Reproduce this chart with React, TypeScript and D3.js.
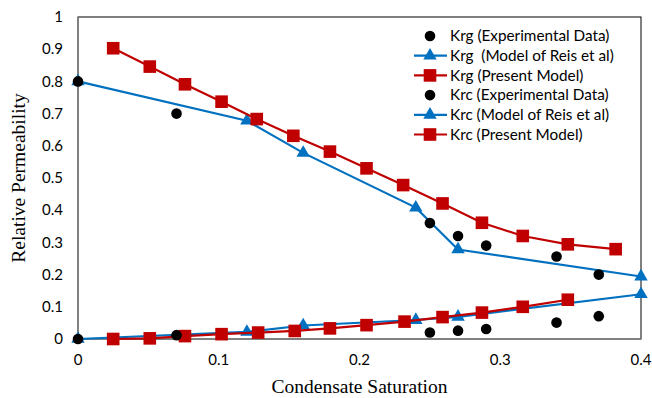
import React from 'react';
import * as d3 from 'd3';

// x = condensate saturation, y = relative permeability
const krgExpX = [0, 0.07, 0.25, 0.27, 0.29, 0.34, 0.37];
const krgExpY = [0.8, 0.7, 0.36, 0.32, 0.29, 0.256, 0.2];

const krgReisX = [0, 0.12, 0.16, 0.24, 0.27, 0.4];
const krgReisY = [0.8, 0.678, 0.578, 0.408, 0.278, 0.194];

const krgPresentX = [0.025, 0.051, 0.076, 0.102, 0.127, 0.153, 0.179, 0.205, 0.231, 0.259, 0.287, 0.316, 0.348, 0.382];
const krgPresentY = [0.903, 0.846, 0.791, 0.737, 0.683, 0.631, 0.582, 0.53, 0.478, 0.421, 0.361, 0.32, 0.294, 0.279];

const krcExpX = [0, 0.07, 0.25, 0.27, 0.29, 0.34, 0.37];
const krcExpY = [0, 0.012, 0.02, 0.026, 0.031, 0.051, 0.071];

const krcReisX = [0, 0.12, 0.16, 0.24, 0.27, 0.4];
const krcReisY = [0, 0.022, 0.042, 0.059, 0.069, 0.139];

const krcPresentX = [0.025, 0.051, 0.076, 0.102, 0.128, 0.154, 0.179, 0.205, 0.232, 0.259, 0.287, 0.316, 0.348];
const krcPresentY = [0, 0.002, 0.009, 0.015, 0.02, 0.025, 0.033, 0.043, 0.054, 0.068, 0.082, 0.1, 0.122];

const xTicks = [0, 0.1, 0.2, 0.3, 0.4];
const yTicks = [0, 0.1, 0.2, 0.3, 0.4, 0.5, 0.6, 0.7, 0.8, 0.9, 1];

const legendLabels = [
  'Krg (Experimental Data)',
  'Krg  (Model of Reis et al)',
  'Krg (Present Model)',
  'Krc (Experimental Data)',
  'Krc (Model of Reis et al)',
  'Krc (Present Model)',
];

const BLUE = '#0070C0';
const RED = '#C00000';
const W = 652;
const H = 398;
const m = { left: 78, right: 11, top: 17, bottom: 59 };

const x = d3.scaleLinear().domain([0, 0.4]).range([m.left, W - m.right]);
const y = d3.scaleLinear().domain([0, 1]).range([H - m.bottom, m.top]);

const zip = (xs: number[], ys: number[]) => xs.map((v, i) => [v, ys[i]] as [number, number]);
const line = d3.line<[number, number]>().x(d => x(d[0])).y(d => y(d[1]));
const triPath = d3.symbol(d3.symbolTriangle, 78)()!;

type Kind = 'dot' | 'tri' | 'sq';
const mark = (k: Kind, cx: number, cy: number, key: string) => {
  if (k === 'dot') return <circle key={key} cx={cx} cy={cy} r={5.3} fill="#000" />;
  if (k === 'tri') return <path key={key} d={triPath} transform={`translate(${cx},${cy})`} fill={BLUE} />;
  return <rect key={key} x={cx - 6.3} y={cy - 6.3} width={12.6} height={12.6} fill={RED} />;
};

const series: { xs: number[]; ys: number[]; kind: Kind }[] = [
  { xs: krgReisX, ys: krgReisY, kind: 'tri' },
  { xs: krgPresentX, ys: krgPresentY, kind: 'sq' },
  { xs: krcReisX, ys: krcReisY, kind: 'tri' },
  { xs: krcPresentX, ys: krcPresentY, kind: 'sq' },
  { xs: krgExpX, ys: krgExpY, kind: 'dot' },
  { xs: krcExpX, ys: krcExpY, kind: 'dot' },
];
const legendKinds: Kind[] = ['dot', 'tri', 'sq', 'dot', 'tri', 'sq'];

export default function App() {
  const serif = '"Liberation Serif", "Times New Roman", serif';
  const sans = 'Lato, "Open Sans", sans-serif';
  return (
    <svg width={W} height={H} style={{ position: 'absolute', left: 0, top: 0, background: '#fff' }}>
      <rect x={0} y={0} width={W} height={H} fill="#fff" />
      {/* plot frame */}
      <rect x={m.left} y={m.top} width={W - m.left - m.right} height={H - m.top - m.bottom} fill="none" stroke="#000" strokeWidth={1} />
      <line x1={m.left} x2={W - m.right} y1={y(0)} y2={y(0)} stroke="#808080" strokeWidth={1.5} />
      <line x1={m.left} x2={m.left} y1={m.top} y2={y(0)} stroke="#808080" strokeWidth={1.5} />

      {yTicks.map(t => (
        <text key={t} x={m.left - 15} y={y(t)} dy="0.35em" textAnchor="end" fontFamily={sans} fontSize={15}>
          {t}
        </text>
      ))}
      {xTicks.map(t => (
        <text key={t} x={x(t)} y={y(0) + 26} textAnchor="middle" fontFamily={sans} fontSize={15}>
          {t}
        </text>
      ))}
      <text x={(m.left + W - m.right) / 2} y={H - 5} textAnchor="middle" fontFamily={serif} fontSize={19.5}>
        Condensate Saturation
      </text>
      <text transform={`translate(25,${(m.top + y(0)) / 2}) rotate(-90)`} textAnchor="middle" fontFamily={serif} fontSize={19.5}>
        Relative Permeability
      </text>

      {series.map((s, i) => {
        const pts = zip(s.xs, s.ys);
        return (
          <g key={i}>
            {s.kind !== 'dot' && (
              <path d={line(pts)!} fill="none" stroke={s.kind === 'tri' ? BLUE : RED} strokeWidth={2.2} />
            )}
            {pts.map((p, j) => mark(s.kind, x(p[0]), y(p[1]), `${i}-${j}`))}
          </g>
        );
      })}

      {legendLabels.map((lab, i) => {
        const ly = 36 + i * 19.7;
        const k = legendKinds[i];
        return (
          <g key={lab}>
            {k !== 'dot' && (
              <line x1={414} x2={447} y1={ly} y2={ly} stroke={k === 'tri' ? BLUE : RED} strokeWidth={2.2} />
            )}
            {mark(k, 430, ly, `l${i}`)}
            <text x={450} y={ly} dy="0.35em" fontFamily={sans} fontSize={15.3} style={{ whiteSpace: 'pre' }}>
              {lab}
            </text>
          </g>
        );
      })}
    </svg>
  );
}
